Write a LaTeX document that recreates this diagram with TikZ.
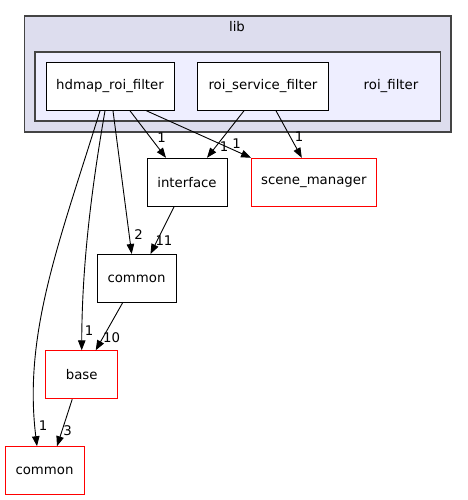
\documentclass[tikz,border=0pt]{standalone}
\usepackage{fontspec}
\setmainfont{DejaVu Sans}
\usetikzlibrary{arrows.meta}
\definecolor{libfill}{HTML}{DDDDEE}
\definecolor{roifill}{HTML}{EEEEFF}
\definecolor{cborder}{HTML}{444444}
\tikzset{
  box/.style={draw=black, fill=white, line width=1pt, minimum width=#1, minimum height=48pt, inner sep=0pt, font=\fontsize{13.3}{16}\selectfont},
  box/.default=80pt,
  redbox/.style={box=#1, draw=red},
  redbox/.default=80pt,
  cluster/.style={draw=cborder, line width=1.1pt},
  edge/.style={draw=black, line width=0.9pt, -{Triangle[length=10pt,width=7.5pt]}},
  elabel/.style={font=\fontsize{13.3}{16}\selectfont, inner sep=0pt},
}
\begin{document}
\begin{tikzpicture}[x=1pt,y=-1pt]
\useasboundingbox (0,0) rectangle (467,500);
% clusters
\draw[cluster, fill=libfill] (24.5,16) rectangle (451,132);
\node[elabel] (liblabel) at (237,27) {lib};
\draw[cluster, fill=roifill] (35,52) rectangle (440.5,121);
\node[elabel] (roilabel) at (391,86) {roi\_filter};
% nodes
\node[box=128pt] (hdmap) at (110,86.3) {hdmap\_roi\_filter};
\node[box=130.5pt] (roisvc) at (263,86.3) {roi\_service\_filter};
\node[box=80pt] (iface) at (187,182.3) {interface};
\node[redbox=125.5pt] (scene) at (313.8,182.3) {scene\_manager};
\node[box=79pt] (cmid) at (136.5,278.5) {common};
\node[redbox=72pt] (base) at (81.7,374.8) {base};
\node[redbox=79pt] (cbot) at (44.5,470.7) {common};
% edges
\draw[edge] ([xshift=20pt]hdmap.south) -- ([xshift=-21pt]iface.north);
\draw[edge] ([xshift=36.5pt]hdmap.south) -- ([xshift=0.5pt]scene.north west);
\draw[edge] ([xshift=-19pt]roisvc.south) -- ([xshift=20pt]iface.north);
\draw[edge] ([xshift=13pt]roisvc.south) -- ([xshift=-12pt]scene.north);
\draw[edge] ([xshift=3pt]hdmap.south) -- ([xshift=-4.8pt]cmid.north);
\draw[edge] ([xshift=-13pt]iface.south) -- ([xshift=14pt]cmid.north);
\draw[edge] ([xshift=-5pt]hdmap.south) .. controls (93,180) and (82,260) .. (base.north);
\draw[edge] ([xshift=-14pt]cmid.south) -- ([xshift=14pt]base.north);
\draw[edge] ([xshift=-10pt]hdmap.south) .. controls (60,240) and (23,333) .. ([xshift=-7.5pt]cbot.north);
\draw[edge] ([xshift=-9.5pt]base.south) -- ([xshift=12.5pt]cbot.north);
% edge labels
\node[elabel] (l1) at (161.7,137.3) {1};
\node[elabel] (l2) at (236.7,144) {1};
\node[elabel] (l3) at (224,147) {1};
\node[elabel] (l4) at (299,136.7) {1};
\node[elabel] (l5) at (138.7,235) {2};
\node[elabel] (l6) at (164,240.7) {11};
\node[elabel] (l7) at (89,330.7) {1};
\node[elabel] (l8) at (111.7,337.7) {10};
\node[elabel] (l9) at (43,426) {1};
\node[elabel] (l10) at (67.7,431) {3};
\end{tikzpicture}
\end{document}
